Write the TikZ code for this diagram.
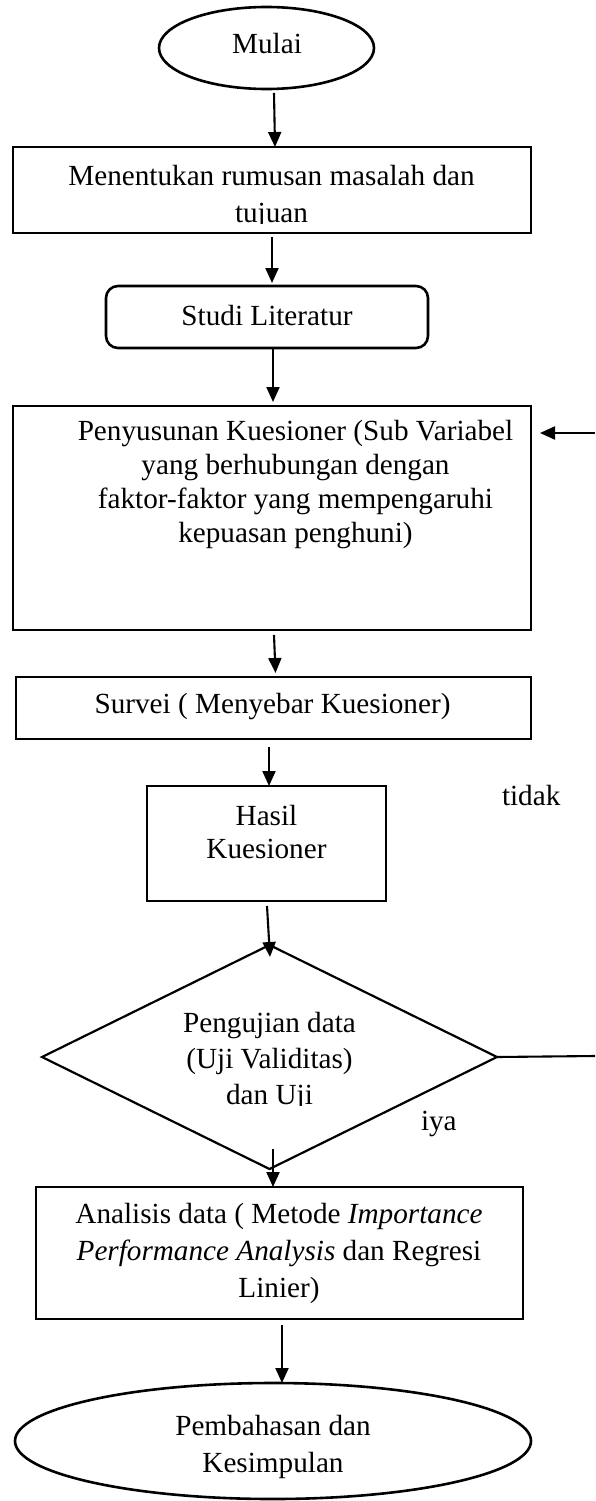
\documentclass[tikz,border=0pt]{standalone}
\usepackage{fontspec}
\setmainfont{Liberation Serif}
\usetikzlibrary{shapes.geometric,arrows.meta}
\newcommand{\myfs}[1]{\fontsize{29.2}{#1}\selectfont}
\begin{document}
\begin{tikzpicture}[x=1pt,y=-1pt,
  shapeline/.style={draw, line width=2.6pt, inner sep=0pt, outer sep=0pt},
  boxnode/.style={shapeline, rectangle},
  arr/.style={line width=2.1pt, -{Triangle[length=15pt,width=13pt]}},
  lbl/.style={inner sep=0pt, outer sep=0pt, align=center},
  font=\myfs{37}]
\fill[white] (0,0) rectangle (595,1501);
\useasboundingbox (0,0) rectangle (595,1501);

% shapes
\node[shapeline, ellipse, minimum width=215pt, minimum height=82pt] (mulai) at (266.5,48) {};
\node[boxnode, minimum width=518pt, minimum height=86pt] (b1) at (272,190) {};
\node[boxnode, rounded corners=12pt, minimum width=322pt, minimum height=62pt] (studi) at (267,317) {};
\node[boxnode, minimum width=518pt, minimum height=224pt] (b3) at (272,518) {};
\node[boxnode, minimum width=515pt, minimum height=62pt] (survei) at (273.5,708) {};
\node[boxnode, minimum width=239pt, minimum height=115pt] (hasil) at (266.5,843.5) {};
\node[shapeline, line width=2.2pt, diamond, minimum width=455pt, minimum height=224pt] (dia) at (269.5,1057) {};
\node[boxnode, minimum width=487pt, minimum height=132pt] (analisis) at (279.5,1253) {};
\node[shapeline, ellipse, minimum width=516pt, minimum height=116pt] (pemb) at (273,1441) {};

% texts
\node[lbl, anchor=base] (tmulai) at (267,54) {Mulai};
\begin{scope}
\clip (13,147) rectangle (531,223);
\node[lbl, anchor=north] (tb1) at (271.5,159.1) {\strut Menentukan rumusan masalah dan\\tujuan};
\end{scope}
\node[lbl, anchor=base] (tstudi) at (267,325) {Studi Literatur};
\node[lbl, anchor=north, font=\myfs{33.7}] (tb3) at (295.5,417.4) {\strut Penyusunan Kuesioner (Sub Variabel\\yang berhubungan dengan\\faktor-faktor yang mempengaruhi\\kepuasan penghuni)};
\node[lbl, anchor=base] (tsurvei) at (272.5,713) {Survei ( Menyebar Kuesioner)};
\node[lbl, anchor=north, font=\myfs{33}] (thasil) at (266.5,801.9) {\strut Hasil\\Kuesioner};
\begin{scope}
\clip (42,940) rectangle (497,1105);
\node[lbl, anchor=north, font=\myfs{36}] (tdia) at (269.5,1006.8) {\strut Pengujian data\\(Uji Validitas)\\dan Uji};
\end{scope}
\node[lbl, anchor=north] (tanalisis) at (279,1197.1) {\strut Analisis data ( Metode \textit{Importance}\\\textit{Performance Analysis} dan Regresi\\Linier)};
\node[lbl, anchor=north] (tpemb) at (273,1409.1) {\strut Pembahasan dan\\Kesimpulan};
\node[lbl, anchor=base west] (tidak) at (502,805) {tidak};
\node[lbl, anchor=base west] (iya) at (421,1130) {iya};

% connectors
\draw[arr] ([xshift=7.5pt,yshift=-4pt]mulai.south) -- ([xshift=3pt]b1.north);
\draw[arr] ([yshift=-4pt]b1.south) -- ([xshift=5pt,yshift=3pt]studi.north);
\draw[arr] ([xshift=6pt,yshift=-1pt]studi.south) -- ([xshift=1pt,yshift=4pt]b3.north);
\draw[arr] ([xshift=2pt,yshift=-5pt]b3.south) -- ([xshift=2pt,yshift=4pt]survei.north);
\draw[arr] ([xshift=-4.5pt,yshift=-8pt]survei.south) -- ([xshift=2.5pt]hasil.north);
\draw[arr] ([xshift=0.5pt,yshift=-5pt]hasil.south) -- ([xshift=0.5pt,yshift=-12pt]dia.north);
\draw[arr] ([xshift=3.5pt,yshift=20pt]dia.south) -- ([xshift=-6.5pt]analisis.north);
\draw[arr] ([xshift=2.5pt,yshift=-6pt]analisis.south) -- ([xshift=9pt]pemb.north);

% feedback (tidak)
\coordinate (fb1) at (595,1056);
\coordinate (fb2) at (595,433);
\draw[line width=2.1pt] (dia.east) -- (fb1);
\draw[arr, shorten >=9pt] (fb2) -- (fb2 -| b3.east);
\end{tikzpicture}
\end{document}
